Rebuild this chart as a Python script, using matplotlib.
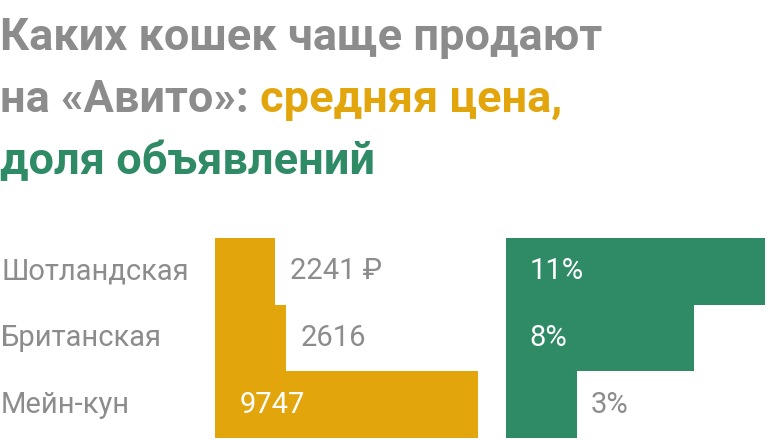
import matplotlib
matplotlib.use("Agg")
import matplotlib.pyplot as plt

breeds = ["Шотландская", "Британская", "Мейн-кун"]
prices = [2241, 2616, 9747]
price_labels = ["2241 ₽", "2616", "9747"]
shares = [11, 8, 3]
share_labels = ["11%", "8%", "3%"]

GREY = "#8c8c8c"; ORANGE = "#e2a50c"; GREEN = "#2f8a66"
plt.rcParams['font.family'] = ['Roboto', 'DejaVu Sans']
W, H = 768, 440
fig = plt.figure(figsize=(W/100, H/100), dpi=100)

def fx(px): return px / W
def fy(py): return 1 - py / H

r = fig.canvas.get_renderer()
lines = [[("Каких кошек чаще продают", GREY)],
         [("на «Авито»: ", GREY), ("средняя цена,", ORANGE)],
         [("доля объявлений", GREEN)]]
for i, line in enumerate(lines):
    x = 0
    for s, c in line:
        t = fig.text(fx(x), fy(38 + i*62), s, color=c, fontsize=32.5, fontweight='bold', va='center', ha='left')
        x += t.get_window_extent(r).width

top, bot = 238, 438
ax1 = fig.add_axes([fx(215), fy(bot), fx(478) - fx(215), (bot-top)/H])
ax2 = fig.add_axes([fx(506), fy(bot), fx(765) - fx(506), (bot-top)/H])
y = list(range(len(breeds)))
ax1.barh(y, prices, height=1.0, color=ORANGE)
ax2.barh(y, shares, height=1.0, color=GREEN)
for ax, xm in ((ax1, 9747), (ax2, 11)):
    ax.set_xlim(0, xm); ax.set_ylim(2.5, -0.5); ax.axis('off')
FS = 21
for i in range(3):
    fig.text(fx(1), fy(top + 33 + i*67), breeds[i], color=GREY, fontsize=FS, va='center')
    if prices[i] > 5000:
        ax1.text(900, i, price_labels[i], color='white', fontsize=FS, va='center')
    else:
        ax1.text(prices[i] + 550, i, price_labels[i], color=GREY, fontsize=FS, va='center')
    if shares[i] > 5:
        ax2.text(1.0, i, share_labels[i], color='white', fontsize=FS, va='center')
    else:
        ax2.text(shares[i] + 0.6, i, share_labels[i], color=GREY, fontsize=FS, va='center')
fig.savefig("out.png", dpi=100)
